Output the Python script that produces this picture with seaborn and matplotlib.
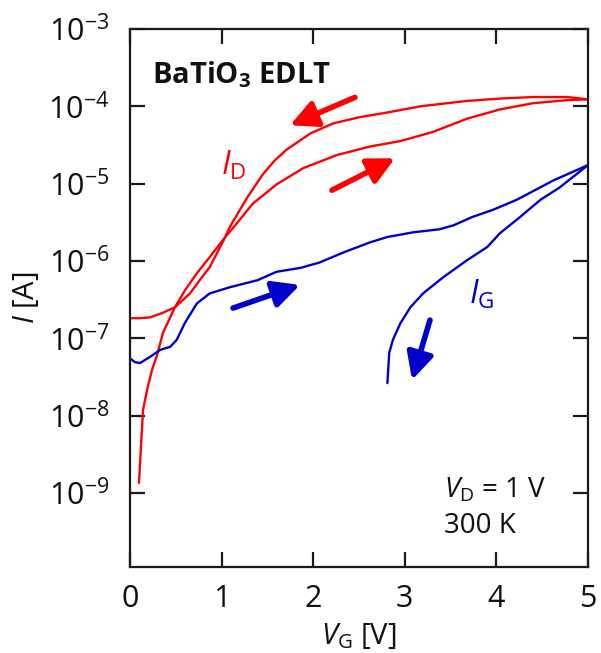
import numpy as np
import pandas as pd
import matplotlib
matplotlib.use("Agg")
import matplotlib.pyplot as plt
import seaborn as sns

# Transfer curves of a BaTiO3 electric-double-layer transistor (log10 of current in A)
vg_id_up = [0.098, 0.142, 0.186, 0.24, 0.295, 0.36, 0.49, 0.60, 0.73, 0.87, 1.04, 1.12,
            1.34, 1.60, 1.89, 2.26, 2.62, 2.95, 3.31, 3.68, 4.04, 4.40, 4.77, 5.0]
log_id_up = [-8.87, -7.93, -7.67, -7.41, -7.22, -6.93, -6.60, -6.38, -6.16, -5.95, -5.69, -5.58,
             -5.26, -5.01, -4.80, -4.63, -4.52, -4.45, -4.33, -4.16, -4.04, -3.96, -3.92, -3.91]

vg_id_down = [5.0, 4.77, 4.40, 4.04, 3.68, 3.17, 2.81, 2.51, 2.22, 1.97, 1.71, 1.58, 1.45, 1.37,
              1.28, 1.09, 1.04, 0.95, 0.87, 0.76, 0.655, 0.49, 0.36, 0.22, 0.11, 0.0]
log_id_down = [-3.91, -3.88, -3.88, -3.90, -3.93, -4.00, -4.08, -4.14, -4.22, -4.35, -4.56, -4.70,
               -4.88, -5.02, -5.18, -5.56, -5.69, -5.90, -6.08, -6.25, -6.42, -6.60, -6.67, -6.73,
               -6.74, -6.74]

vg_ig_up = [0.0, 0.055, 0.11, 0.22, 0.33, 0.44, 0.51, 0.60, 0.73, 0.87, 1.09, 1.39, 1.60, 1.86,
            2.07, 2.33, 2.62, 2.81, 3.09, 3.38, 3.53, 3.74, 3.96, 4.22, 4.62, 5.0]
log_ig_up = [-7.26, -7.31, -7.32, -7.24, -7.15, -7.11, -7.02, -6.80, -6.55, -6.42, -6.34, -6.25,
             -6.14, -6.09, -6.02, -5.89, -5.76, -5.69, -5.63, -5.59, -5.54, -5.43, -5.34, -5.21,
             -4.96, -4.76]

vg_ig_down = [5.0, 4.69, 4.48, 4.26, 4.04, 3.90, 3.68, 3.42, 3.20, 3.06, 2.95, 2.87, 2.83, 2.81]
log_ig_down = [-4.76, -5.05, -5.21, -5.43, -5.64, -5.82, -5.99, -6.21, -6.42, -6.60, -6.81,
               -7.02, -7.19, -7.58]

x_ticks = [0, 1, 2, 3, 4, 5]
y_exponents = [-9, -8, -7, -6, -5, -4, -3]

RED = "#ff0000"
BLUE = "#0000cd"
INK = "#111111"

sns.set_style("ticks")
plt.rcParams["font.family"] = ["Open Sans", "DejaVu Sans"]
plt.rcParams["mathtext.fontset"] = "custom"
plt.rcParams["mathtext.rm"] = "Open Sans"
plt.rcParams["mathtext.it"] = "Open Sans:italic"
plt.rcParams["mathtext.bf"] = "Open Sans:bold"

fig = plt.figure(figsize=(6.01, 6.53), dpi=100)
ax = fig.add_axes([130 / 601, 1 - 567 / 653, 458 / 601, 538 / 653])

series = [
    (vg_id_up, log_id_up, RED),
    (vg_id_down, log_id_down, RED),
    (vg_ig_up, log_ig_up, BLUE),
    (vg_ig_down, log_ig_down, BLUE),
]
for vg, logi, col in series:
    df = pd.DataFrame({"VG": vg, "I": 10.0 ** np.asarray(logi)})
    sns.lineplot(data=df, x="VG", y="I", sort=False, estimator=None,
                 color=col, lw=1.7, ax=ax)

ax.set_yscale("log")
ax.set_xlim(0, 5)
ax.set_ylim(1.1e-10, 1e-3)
ax.set_xticks(x_ticks)
ax.set_xticklabels([str(t) for t in x_ticks])
ax.set_yticks([10.0 ** e for e in y_exponents])
ax.set_yticklabels([r"$\mathdefault{10^{%d}}$" % e for e in y_exponents])
ax.yaxis.set_minor_locator(matplotlib.ticker.NullLocator())

for sp in ax.spines.values():
    sp.set_visible(True)
    sp.set_linewidth(1.6)
    sp.set_color("#1a1a1a")
ax.tick_params(axis="both", which="major", direction="in", length=11, width=1.6,
               color="#1a1a1a", top=True, right=True, labelsize=22,
               labelcolor=INK)
ax.tick_params(axis="x", pad=12)
ax.tick_params(axis="y", pad=15)

ax.set_xlabel(r"$V_\mathrm{G}$ [V]", fontsize=21, labelpad=5, color=INK)
ax.set_ylabel(r"$I$ [A]", fontsize=21, labelpad=5, color=INK)

ax.text(0.048, 0.915, r"BaTiO$_\mathbf{3}$ EDLT", transform=ax.transAxes,
        fontsize=21, fontweight="bold", ha="left", va="center", color=INK)
ax.text(0.198, 0.745, r"$I_\mathrm{D}$", transform=ax.transAxes, fontsize=23,
        color=RED, ha="left", va="center")
ax.text(0.74, 0.505, r"$I_\mathrm{G}$", transform=ax.transAxes, fontsize=23,
        color=BLUE, ha="left", va="center")
ax.text(0.685, 0.143, r"$V_\mathrm{D}$ = 1 V", transform=ax.transAxes, fontsize=20,
        color=INK, ha="left", va="center")
ax.text(0.685, 0.077, "300 K", transform=ax.transAxes, fontsize=20,
        color=INK, ha="left", va="center")

# sweep-direction arrows
arrows = [
    ((2.456, 10 ** -3.884), (1.747, 10 ** -4.245), RED),
    ((2.205, 10 ** -5.085), (2.893, 10 ** -4.672), RED),
    ((1.124, 10 ** -6.61), (1.856, 10 ** -6.31), BLUE),
    ((3.275, 10 ** -6.765), (3.079, 10 ** -7.54), BLUE),
]
for tail, head, col in arrows:
    ax.annotate("", xy=head, xytext=tail,
                arrowprops=dict(arrowstyle="-|>,head_length=0.8,head_width=0.4",
                                lw=4, color=col, shrinkA=0, shrinkB=0,
                                mutation_scale=20))

fig.savefig("out.png", dpi=100)
